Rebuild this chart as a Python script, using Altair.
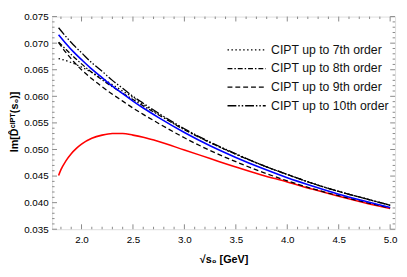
import altair as alt
import pandas as pd

# ---- data ----
xs = [1.777, 1.85, 1.92, 2.0, 2.1, 2.2, 2.3, 2.4, 2.5, 2.6, 2.75, 3.0,
      3.25, 3.5, 3.75, 4.0, 4.25, 4.5, 4.75, 5.0]
blue_y = [0.0716, 0.0699, 0.0684, 0.0669, 0.0651, 0.0635, 0.0619, 0.0605,
          0.0591, 0.0578, 0.0560, 0.0532, 0.0507, 0.0485, 0.0465, 0.0447,
          0.0431, 0.0416, 0.0403, 0.0391]
o7_y = [0.0671, 0.0667, 0.0662, 0.0655, 0.0645, 0.0634, 0.0622, 0.0610,
        0.0598, 0.0585, 0.0566, 0.0538, 0.0513, 0.0491, 0.0471, 0.0453,
        0.0436, 0.0421, 0.0408, 0.0395]
o8_y = [0.0702, 0.0688, 0.0675, 0.0661, 0.0645, 0.0631, 0.0618, 0.0606,
        0.0594, 0.0582, 0.0565, 0.0537, 0.0513, 0.0491, 0.0471, 0.0453,
        0.0436, 0.0421, 0.0408, 0.0395]
o9_y = [0.0701, 0.0682, 0.0666, 0.0650, 0.0633, 0.0618, 0.0604, 0.0591,
        0.0578, 0.0566, 0.0549, 0.0522, 0.0498, 0.0477, 0.0458, 0.0441,
        0.0426, 0.0413, 0.0401, 0.0390]
o10_y = [0.0729, 0.0712, 0.0697, 0.0682, 0.0663, 0.0647, 0.0630, 0.0615,
         0.0600, 0.0587, 0.0568, 0.0539, 0.0514, 0.0492, 0.0471, 0.0453,
         0.0436, 0.0421, 0.0408, 0.0395]
red_x = [1.777, 1.80, 1.85, 1.90, 1.95, 2.0, 2.1, 2.2, 2.3, 2.4, 2.5, 2.6,
         2.75, 3.0, 3.25, 3.5, 3.75, 4.0, 4.25, 4.5, 4.75, 5.0]
red_y = [0.0451, 0.0462, 0.0479, 0.0492, 0.0502, 0.0510, 0.0521, 0.0527,
         0.0530, 0.0530, 0.0527, 0.0523, 0.0515, 0.0499, 0.0483, 0.0467,
         0.0452, 0.0439, 0.0425, 0.0412, 0.0400, 0.0389]

orders = ["CIPT up to 7th order", "CIPT up to 8th order",
          "CIPT up to 9th order", "CIPT up to 10th order"]
dashes = [[1.5, 2.5], [5, 2, 1.5, 2], [5, 3], [9, 2, 1.5, 2, 1.5, 2]]

x_major = [2.0, 2.5, 3.0, 3.5, 4.0, 4.5, 5.0]
x_minor = [1.8, 1.9, 2.1, 2.2, 2.3, 2.4, 2.6, 2.7, 2.8, 2.9, 3.1, 3.2, 3.3,
           3.4, 3.6, 3.7, 3.8, 3.9, 4.1, 4.2, 4.3, 4.4, 4.6, 4.7, 4.8, 4.9]
y_major = [0.035, 0.040, 0.045, 0.050, 0.055, 0.060, 0.065, 0.070, 0.075]
y_minor = [i / 1000 for i in range(36, 75) if i % 5]

# ---- tables ----
black = pd.concat([
    pd.DataFrame({"x": xs, "y": ys, "order": name})
    for name, ys in zip(orders, [o7_y, o8_y, o9_y, o10_y])
])
blue_df = pd.DataFrame({"x": xs, "y": blue_y})
red_df = pd.DataFrame({"x": red_x, "y": red_y})

W, H = 350, 217
xscale = alt.Scale(domain=[1.714, 5.048], nice=False, zero=False)
yscale = alt.Scale(domain=[0.035, 0.075], nice=False, zero=False)
FONT = "Liberation Sans"

x_axis = alt.Axis(values=x_major, format=".1f", ticks=False,
                  domain=False, grid=False, labelPadding=6,
                  titleY=31, titleBaseline="middle")
y_axis = alt.Axis(values=y_major, format=".3f", ticks=False,
                  domain=False, grid=False, labelPadding=4,
                  titleX=-38, titleY=107, titleAngle=-90,
                  titleAlign="center", titleBaseline="middle")
XT = "√s₀  [GeV]"
YT = "Im[D̂ᶜᴵᴾᵀ(s₀)]"


def X():
    return alt.X("x:Q", scale=xscale, title=XT, axis=x_axis)


def Y():
    return alt.Y("y:Q", scale=yscale, title=YT, axis=y_axis)


red_line = alt.Chart(red_df).mark_line(color="#ff0000", strokeWidth=1.6,
                                        interpolate="monotone").encode(
    x=X(), y=Y())
blue_line = alt.Chart(blue_df).mark_line(color="#0000ff", strokeWidth=1.6,
                                          interpolate="monotone").encode(
    x=X(), y=Y())
black_lines = alt.Chart(black).mark_line(color="black", strokeWidth=1.3,
                                         interpolate="monotone").encode(
    x=X(), y=Y(),
    strokeDash=alt.StrokeDash(
        "order:N", scale=alt.Scale(domain=orders, range=dashes),
        sort=orders,
        legend=alt.Legend(title=None, orient="none", legendX=187.5,
                          legendY=23, symbolType="M-1.95,0H1.95",
                          symbolSize=400, symbolFillColor="transparent",
                          symbolStrokeColor="black", symbolStrokeWidth=1.3,
                          labelFont=FONT, labelFontSize=12.5,
                          labelColor="#111", labelOffset=14, rowPadding=1,
                          padding=0)))


def xticks(vals, length, top):
    d = pd.DataFrame({"x": vals})
    y0 = 0 if top else H
    y1 = length if top else H - length
    return alt.Chart(d).mark_rule(color="#888", strokeWidth=1).encode(
        x=X(), y=alt.value(y0), y2=alt.value(y1))


def yticks(vals, length, right):
    d = pd.DataFrame({"y": vals})
    x0 = W if right else 0
    x1 = W - length if right else length
    return alt.Chart(d).mark_rule(color="#888", strokeWidth=1).encode(
        y=Y(), x=alt.value(x0), x2=alt.value(x1))


ticks = [xticks(x_major, 5, False), xticks(x_minor, 2.5, False),
         xticks(x_major, 5, True), xticks(x_minor, 2.5, True),
         yticks(y_major, 5, False), yticks(y_minor, 2.5, False),
         yticks(y_major, 5, True), yticks(y_minor, 2.5, True)]

chart = alt.layer(red_line, *ticks, black_lines, blue_line).properties(
    width=W, height=H,
    autosize=alt.AutoSizeParams(type="none"),
    padding={"left": 45, "top": 6, "right": 4, "bottom": 46},
).configure_view(stroke="#888", strokeWidth=1).configure_axis(
    labelFont=FONT, labelFontSize=11, labelColor="#444",
    titleFont=FONT, titleFontSize=11.5, titleColor="#222",
    titleFontWeight="normal",
).configure(background="white")

chart.save("out.html", embed_options={"renderer": "svg", "actions": False})
